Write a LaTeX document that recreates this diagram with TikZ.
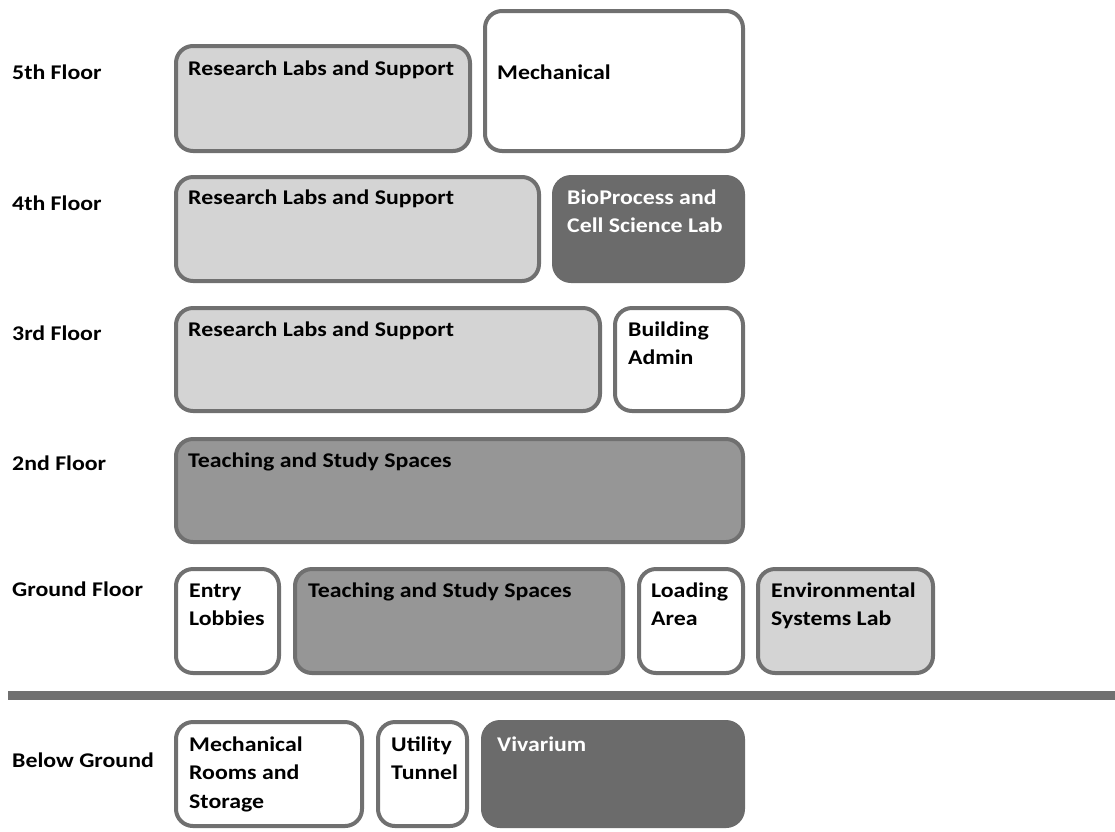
\documentclass[tikz,border=0pt]{standalone}
\usepackage{fontspec}
\setmainfont[FakeStretch=1.14]{Carlito}
\usetikzlibrary{positioning}
\definecolor{roomLight}{RGB}{212,212,212}
\definecolor{roomMid}{RGB}{150,150,150}
\definecolor{roomDark}{RGB}{107,107,107}
\definecolor{roomEdge}{RGB}{112,112,112}
\newcommand{\lines}[1]{\begin{tabular}[t]{@{}l@{}}#1\end{tabular}}

\begin{document}
\begin{tikzpicture}[x=1pt,y=-1pt,
    room/.style={draw=roomEdge, line width=4pt, rounded corners=17pt},
    lbl/.style={anchor=base west, inner sep=0pt, font=\bfseries\fontsize{20.9}{28.5}\selectfont},
    darklbl/.style={lbl, text=white}]
    \useasboundingbox (0,0) rectangle (1115,831);

    % floor names
    \node[lbl] (f5) at (12,79) {5th Floor};
    \node[lbl] (f4) at (12,210) {4th Floor};
    \node[lbl] (f3) at (12,340) {3rd Floor};
    \node[lbl] (f2) at (12,470) {2nd Floor};
    \node[lbl] (fG) at (12,596) {Ground Floor};
    \node[lbl] (fB) at (12,767) {Below Ground};

    % 5th floor
    \draw[room, fill=roomLight] (176,46) rectangle (470,151);
    \node[lbl] (res5) at (188,75) {Research Labs and Support};
    \draw[room, fill=white] (485,11) rectangle (743,151);
    \node[lbl] (mech5) at (497,79) {Mechanical};

    % 4th floor
    \draw[room, fill=roomLight] (176,177) rectangle (539,281);
    \node[lbl] (res4) at (188,204) {Research Labs and Support};
    \draw[room, draw=roomDark, fill=roomDark] (554,177) rectangle (743,281);
    \node[darklbl] (bio) at (567,204) {\lines{BioProcess and\\Cell Science Lab}};

    % 3rd floor
    \draw[room, fill=roomLight] (176,308) rectangle (600,411);
    \node[lbl] (res3) at (188,336) {Research Labs and Support};
    \draw[room, fill=white] (615,308) rectangle (743,411);
    \node[lbl] (admin) at (628,336) {\lines{Building\\Admin}};

    % 2nd floor
    \draw[room, fill=roomMid] (176,439) rectangle (743,542);
    \node[lbl] (teach2) at (188,467) {Teaching and Study Spaces};

    % ground floor
    \draw[room, fill=white] (176,569) rectangle (279,673);
    \node[lbl] (entry) at (189,597) {\lines{Entry\\Lobbies}};
    \draw[room, fill=roomMid] (295,569) rectangle (623,673);
    \node[lbl] (teach1) at (308,597) {Teaching and Study Spaces};
    \draw[room, fill=white] (639,569) rectangle (743,673);
    \node[lbl] (load) at (651,597) {\lines{Loading\\Area}};
    \draw[room, fill=roomLight] (758,569) rectangle (933,673);
    \node[lbl] (env) at (771,597) {\lines{Environmental\\Systems Lab}};

    % grade line
    \draw[roomEdge, line width=9pt] (8,695) -- (1115,695);

    % below ground
    \draw[room, fill=white] (176,722) rectangle (362,826);
    \node[lbl] (mechB) at (189,751) {\lines{Mechanical\\Rooms and\\Storage}};
    \draw[room, fill=white] (378,722) rectangle (467,826);
    \node[lbl] (tunnel) at (391,751) {\lines{Utility\\Tunnel}};
    \draw[room, draw=roomDark, fill=roomDark] (483,722) rectangle (743,826);
    \node[darklbl] (viv) at (497,751) {Vivarium};
\end{tikzpicture}
\end{document}
